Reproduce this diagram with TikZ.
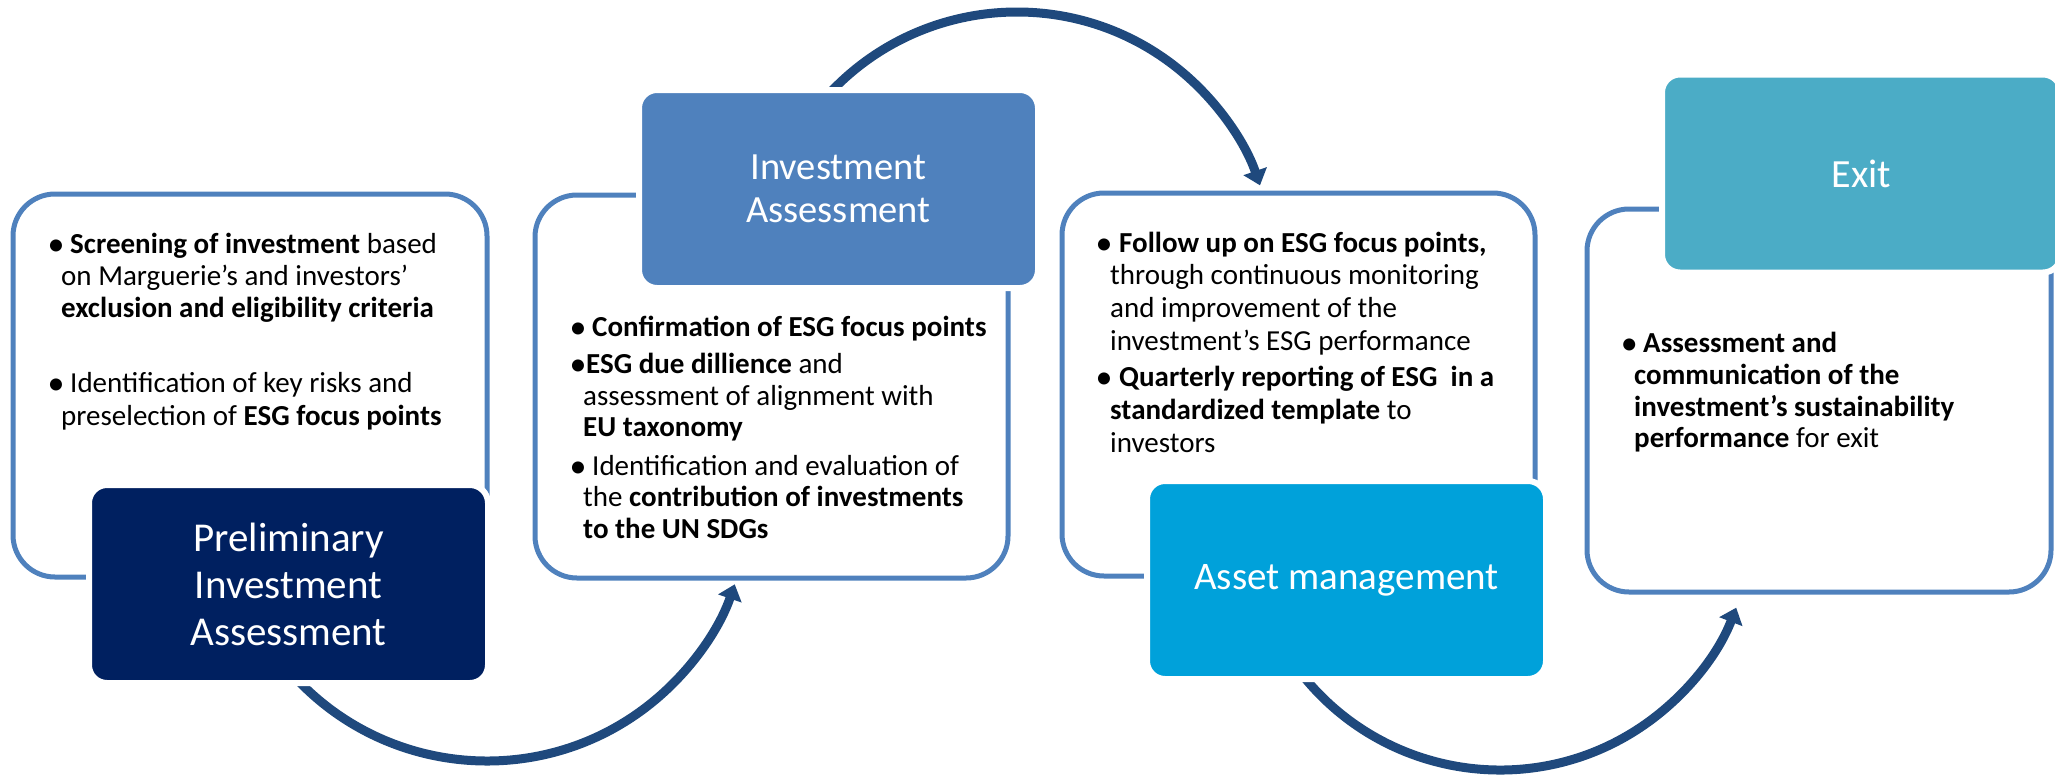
\documentclass[tikz,border=0pt]{standalone}
\usepackage{fontspec}
\setmainfont{Carlito}
\usetikzlibrary{arrows.meta}
\definecolor{outc}{HTML}{4F81BD}
\definecolor{fone}{HTML}{002060}
\definecolor{ftwo}{HTML}{4F81BD}
\definecolor{fthree}{HTML}{00A1DA}
\definecolor{ffour}{HTML}{4BACC6}
\definecolor{arrc}{HTML}{1F497D}
% bullet dot centred 5pt right of the line start, text #1 further on
\newcommand\mybul[1]{\hspace*{5pt}\makebox[0pt][c]{\raisebox{-2pt}{\fontsize{34}{32}\selectfont •}}\hspace*{#1}}
\begin{document}
\begin{tikzpicture}[x=1pt,y=-1pt,
  outl/.style={draw=outc, line width=5pt, rounded corners=42pt, inner sep=0pt, minimum height=383pt},
  fbox/.style={draw=white, line width=6pt, rounded corners=18pt, minimum width=399pt, minimum height=198pt, text=white, align=center, inner sep=0pt},
  flow/.style={draw=arrc, line width=9pt, -{Triangle[width=24pt,length=15pt]}},
  tx/.style={anchor=base west, inner sep=0pt, font=\fontsize{29}{32}\selectfont}]
\useasboundingbox (0,0) rectangle (2055,774);
% outline boxes
\node[outl, minimum width=474pt] (o1) at (250,385.5) {};
\node[outl, minimum width=473pt] (o2) at (771.5,386.5) {};
\node[outl, minimum width=473pt] (o3) at (1298.5,384.5) {};
\node[outl, minimum width=464pt] (o4) at (1819,400.5) {};
% arrows
\coordinate (c1) at (487,499);
\coordinate (c2) at (1017,269);
\coordinate (c3) at (1500,517);
\path (c1) ++(140:262) coordinate (a1s);
\path (c2) ++(222:257) coordinate (a2s);
\path (c3) ++(145:253) coordinate (a3s);
\draw[flow] (a1s) arc[start angle=140, end angle=19, radius=262];
\draw[flow] (a2s) arc[start angle=222, end angle=341, radius=257];
\draw[flow] (a3s) arc[start angle=145, end angle=21, radius=253];
% filled boxes
\node[fbox, fill=fone, font=\fontsize{41}{47}\selectfont] (p1) at (288.5,584) {Preliminary\\Investment\\Assessment};
\node[fbox, fill=ftwo, font=\fontsize{38.5}{43}\selectfont] (p2) at (838.5,189) {Investment\\Assessment};
\node[fbox, fill=fthree, font=\fontsize{39}{47}\selectfont] (p3) at (1346.5,580) {Asset management};
\node[fbox, fill=ffour, font=\fontsize{40}{47}\selectfont] (p4) at (1861.5,173.5) {Exit};
% box 1 text
\node[tx] (t11) at (51,253) {\mybul{14pt}\textbf{Screening of investment} based};
\node[tx] (t12) at (61,285) {on Marguerie’s and investors’};
\node[tx] (t13) at (61,317) {\textbf{exclusion and eligibility criteria}};
\node[tx] (t14) at (51,392) {\mybul{14pt}Identification of key risks and};
\node[tx] (t15) at (61,425) {preselection of \textbf{ESG focus points}};
% box 2 text
\node[tx] (t21) at (573,336) {\mybul{14pt}\textbf{Confirmation of ESG focus points}};
\node[tx] (t22) at (573,373) {\mybul{8pt}\textbf{ESG due dillience} and};
\node[tx] (t23) at (583,405) {assessment of alignment with};
\node[tx] (t24) at (583,436) {\textbf{EU taxonomy}};
\node[tx] (t25) at (573,475) {\mybul{14pt}Identification and evaluation of};
\node[tx] (t26) at (583,506) {the \textbf{contribution of investments}};
\node[tx] (t27) at (583,538) {\textbf{to the UN SDGs}};
% box 3 text
\node[tx] (t31) at (1099,252) {\mybul{15pt}\textbf{Follow up on ESG focus points,}};
\node[tx] (t32) at (1110,284) {through continuous monitoring};
\node[tx] (t33) at (1110,317) {and improvement of the};
\node[tx] (t34) at (1110,350) {investment’s ESG performance};
\node[tx] (t35) at (1099,386) {\mybul{15pt}\textbf{Quarterly reporting of ESG \ in a}};
\node[tx] (t36) at (1110,419) {\textbf{standardized template} to};
\node[tx] (t37) at (1110,452) {investors};
% box 4 text
\node[tx] (t41) at (1624,352) {\mybul{14pt}\textbf{Assessment and}};
\node[tx] (t42) at (1634,384) {\textbf{communication of the}};
\node[tx] (t43) at (1634,416) {\textbf{investment’s sustainability}};
\node[tx] (t44) at (1634,447) {\textbf{performance} for exit};
\end{tikzpicture}
\end{document}
